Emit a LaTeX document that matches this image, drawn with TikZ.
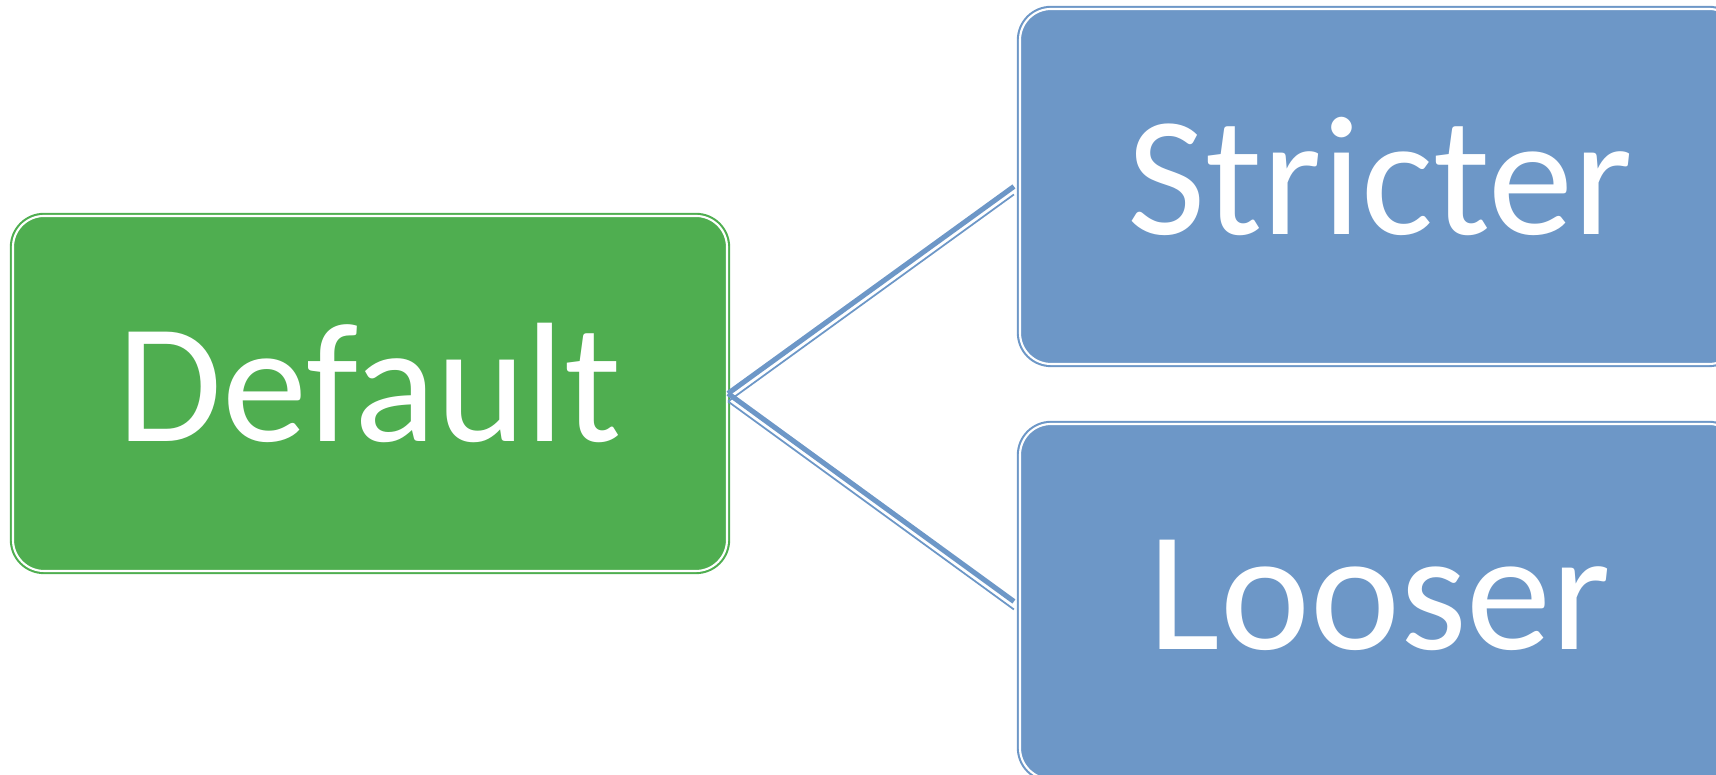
\documentclass[tikz,border=0pt]{standalone}
\usepackage{fontspec}
\setmainfont{Carlito}
\usepackage{tikz}
\usetikzlibrary{calc}
\definecolor{boxgreen}{RGB}{79,174,80}
\definecolor{boxblue}{RGB}{109,151,199}

\begin{document}
\begin{tikzpicture}
	\tikzstyle{box} = [rectangle, rounded corners=0.31cm, minimum width=7.14cm, minimum height=3.55cm, inner sep=0pt, text height=1.2cm, text depth=0.24cm, text=white, double=white, double distance=0.6pt, line width=0.6pt, font=\fontsize{48.5}{50}\selectfont]
	\tikzstyle{thick link} = [boxblue, line width=1.45pt]
	\tikzstyle{thin link} = [boxblue, line width=0.5pt]
	\clip (0,0) rectangle (17.16,7.75);
	\coordinate (D) at (3.70,3.815);
	\coordinate (S) at (13.80,5.885);
	\coordinate (L) at (13.80,1.735);
	\node[box, fill=boxgreen, draw=boxgreen] (default) at (D) {Default};
	\node[box, fill=boxblue, draw=boxblue, minimum width=7.2cm] (stricter) at (S) {Stricter};
	\node[box, fill=boxblue, draw=boxblue, minimum width=7.2cm] (looser) at (L) {Looser};
	\draw[thick link] (default.east) -- ($(stricter.west)+(-0.05,0)$);
	\draw[thick link] (default.east) -- ($(looser.west)+(-0.05,0)$);
	\draw[thin link, transform canvas={yshift=-0.08cm}] (default.east) -- ($(stricter.west)+(-0.05,0)$);
	\draw[thin link, transform canvas={yshift=-0.08cm}] (default.east) -- ($(looser.west)+(-0.05,0)$);
\end{tikzpicture}
\end{document}
